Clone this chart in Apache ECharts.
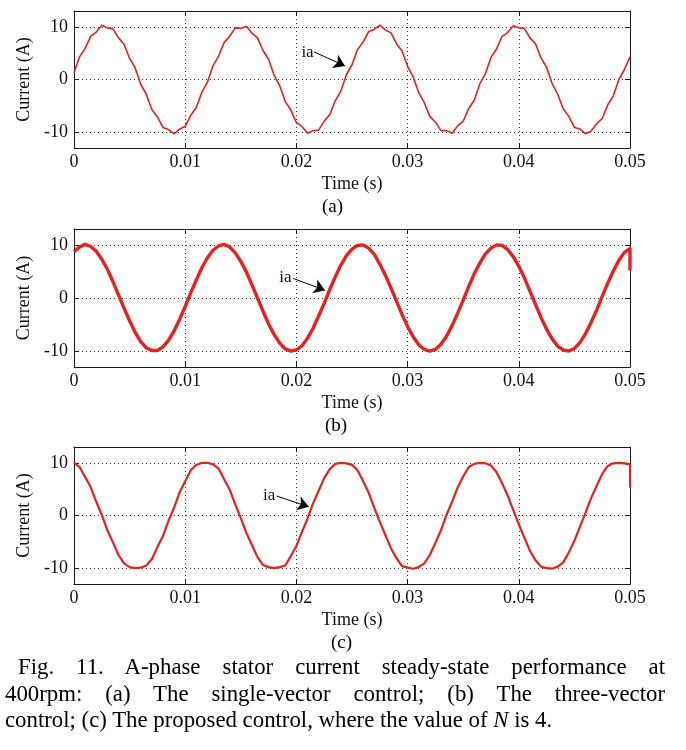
<!DOCTYPE html>
<html><head><meta charset="utf-8">
<script src="https://cdn.jsdelivr.net/npm/echarts@6/dist/echarts.min.js"></script>
<style>
html,body{margin:0;padding:0;background:#fff;}
#chart{position:absolute;left:0;top:0;width:686px;height:750px;}
#caption{position:absolute;left:5px;top:654px;width:660px;font-family:'Liberation Serif','Times New Roman',serif;font-size:22.8px;line-height:26.5px;color:#000;}
.j{text-align:justify;text-align-last:justify;white-space:nowrap;}
</style></head><body>
<div id="chart"></div>
<div id="caption">
<div class="j" style="text-indent:13px">Fig. 11. A-phase stator current steady-state performance at</div>
<div class="j">400rpm: (a) The single-vector control; (b) The three-vector</div>
<div style="white-space:nowrap">control; (c) The proposed control, where the value of <i>N</i> is 4.</div>
</div>
<script>
const times = [
  0, 0.0005, 0.001, 0.0015, 0.002, 0.0025, 0.003, 0.0035, 0.004, 0.0045,
  0.005, 0.0055, 0.006, 0.0065, 0.007, 0.0075, 0.008, 0.0085, 0.009, 0.0095,
  0.010, 0.0105, 0.011, 0.0115, 0.012, 0.0125, 0.013, 0.0135, 0.014, 0.0145,
  0.015, 0.0155, 0.016, 0.0165, 0.017, 0.0175, 0.018, 0.0185, 0.019, 0.0195,
  0.020, 0.0205, 0.021, 0.0215, 0.022, 0.0225, 0.023, 0.0235, 0.024, 0.0245,
  0.025, 0.0255, 0.026, 0.0265, 0.027, 0.0275, 0.028, 0.0285, 0.029, 0.0295,
  0.030, 0.0305, 0.031, 0.0315, 0.032, 0.0325, 0.033, 0.0335, 0.034, 0.0345,
  0.035, 0.0355, 0.036, 0.0365, 0.037, 0.0375, 0.038, 0.0385, 0.039, 0.0395,
  0.040, 0.0405, 0.041, 0.0415, 0.042, 0.0425, 0.043, 0.0435, 0.044, 0.0445,
  0.045, 0.0455, 0.046, 0.0465, 0.047, 0.0475, 0.048, 0.0485, 0.049, 0.0495,
  0.050
];
// (a) single-vector control
const currentA = [
  1.3, 4.3, 5.9, 8.2, 9.0, 10.3, 9.8, 9.6, 7.9, 6.7,
  4.0, 2.2, -0.9, -2.8, -5.7, -7.1, -9.1, -9.5, -10.3, -9.4,
  -8.9, -6.8, -5.3, -2.4, -0.5, 2.6, 4.4, 7.0, 8.2, 9.8,
  9.7, 10.1, 8.8, 7.9, 5.5, 3.8, 0.8, -1.2, -4.2, -5.8,
  -8.2, -8.9, -10.2, -9.7, -9.6, -7.9, -6.7, -4.0, -2.2, 0.9,
  2.8, 5.7, 7.1, 9.1, 9.5, 10.3, 9.4, 8.9, 6.8, 5.4,
  2.5, 0.5, -2.5, -4.4, -7.0, -8.1, -9.7, -9.7, -10.2, -8.8,
  -7.9, -5.5, -3.9, -0.8, 1.1, 4.2, 5.8, 8.2, 8.9, 10.2,
  9.8, 9.7, 7.9, 6.8, 4.1, 2.3, -0.8, -2.8, -5.6, -7.0,
  -9.1, -9.4, -10.3, -9.8, -8.4, -7.4, -4.8, -3.1, 0.0, 1.9,
  4.3
];
// (b) three-vector control
const currentB = [
  8.7, 9.6, 10.1, 9.7, 8.8, 7.3, 5.4, 3.1, 0.6, -1.9,
  -4.3, -6.5, -8.2, -9.4, -9.9, -9.9, -9.2, -8.0, -6.2, -4.0,
  -1.6, 1.0, 3.4, 5.7, 7.6, 9.0, 9.8, 10.1, 9.6, 8.5,
  6.9, 4.9, 2.5, 0.0, -2.5, -4.9, -6.9, -8.5, -9.6, -10.0,
  -9.8, -9.0, -7.6, -5.7, -3.4, -1.0, 1.6, 4.0, 6.2, 8.0,
  9.2, 9.9, 10.0, 9.4, 8.2, 6.4, 4.3, 1.9, -0.6, -3.1,
  -5.4, -7.3, -8.8, -9.7, -10.0, -9.7, -8.7, -7.2, -5.2, -2.9,
  -0.4, 2.2, 4.6, 6.6, 8.3, 9.4, 10.0, 9.9, 9.1, 7.8,
  6.0, 3.8, 1.3, -1.2, -3.7, -5.9, -7.7, -9.1, -9.8, -10.0,
  -9.5, -8.4, -6.7, -4.6, -2.3, 0.3, 2.8, 5.1, 7.1, 8.6,
  9.3
];
const endDropB = 5.2;
// (c) proposed control, N = 4
const currentC = [
  10.0, 9.2, 7.3, 5.4, 2.6, 0.1, -2.8, -5.1, -7.5, -9.1,
  -9.8, -10.0, -9.9, -9.5, -8.3, -6.0, -3.9, -1.0, 1.5, 4.4,
  6.5, 8.6, 9.6, 10.0, 10.0, 9.7, 8.9, 6.9, 4.9, 2.1,
  -0.5, -3.3, -5.6, -7.9, -9.4, -9.8, -10.0, -9.8, -9.5, -7.7,
  -5.8, -3.1, -0.6, 2.3, 4.7, 7.1, 8.8, 9.8, 10.0, 9.9,
  9.6, 8.6, 6.5, 4.3, 1.5, -1.2, -3.7, -6.2, -8.1, -9.6,
  -9.9, -10.1, -9.8, -9.1, -7.5, -5.2, -2.8, 0.1, 2.6, 5.3,
  7.4, 9.2, 9.8, 10.0, 9.9, 9.5, 8.2, 6.1, 3.8, 1.0,
  -1.7, -4.2, -6.7, -8.5, -9.7, -10.0, -10.1, -9.7, -8.9, -7.0,
  -4.8, -2.1, 0.5, 3.3, 5.6, 7.9, 9.4, 9.9, 10.0, 9.9,
  9.7
];
const endDropC = 5.3;

const yTickValues = [-10, 0, 10];
const panelLabels = ['(a)', '(b)', '(c)'];
const xAxisName = 'Time (s)';
const yAxisName = 'Current (A)';
const seriesName = 'ia';
// annotation anchors in data units: [label point, arrow start, arrow end]
const annotA = [[0.0210, 5.1], [0.02158, 5.24], [0.02437, 2.58]];
const annotB = [[0.01902, 3.8], [0.01972, 3.68], [0.02257, 1.46]];
const annotC = [[0.01754, 3.8], [0.01823, 3.68], [0.02111, 1.66]];

// ---------- layout ----------
const gridTops = [11, 229, 447];
const gridHeights = [137, 138, 137];
const gridLeft = 74, gridWidth = 556;
const labelCenters = [334, 337, 343];
const RED = '#e8201e';
const FONT = "'Liberation Serif', 'Times New Roman', serif";
const lineWidths = [1.6, 3.4, 2.2];

function pairs(vals, extra) {
  const d = times.map((t, i) => [t, vals[i]]);
  if (extra !== undefined) d.push([times[times.length - 1], extra]);
  return d;
}
const dataSets = [pairs(currentA), pairs(currentB, endDropB), pairs(currentC, endDropC)];
const annots = [annotA, annotB, annotC];

const grids = [], xAxes = [], yAxes = [], series = [], graphics = [];
const frameLine = { show: true, onZero: false, lineStyle: { color: '#1a1a1a', width: 1 } };
const gridDots = { show: true, lineStyle: { color: '#333', width: 1, type: [1, 3] } };
for (let g = 0; g < 3; g++) {
  grids.push({ left: gridLeft, top: gridTops[g], width: gridWidth, height: gridHeights[g], containLabel: false });
  const xBase = { type: 'value', gridIndex: g, min: 0, max: 0.05, interval: 0.01 };
  xAxes.push(Object.assign({}, xBase, {
    position: 'bottom',
    axisLine: frameLine,
    axisTick: { show: true, inside: true, length: 5, lineStyle: { color: '#1a1a1a' } },
    axisLabel: { show: true, margin: 5, color: '#111', fontFamily: FONT, fontSize: 18,
      formatter: v => String(+v.toFixed(2)) },
    splitLine: gridDots,
    name: xAxisName, nameLocation: 'middle', nameGap: 27,
    nameTextStyle: { color: '#111', fontFamily: FONT, fontSize: 18 }
  }));
  xAxes.push(Object.assign({}, xBase, {
    position: 'top',
    axisLine: frameLine,
    axisTick: { show: true, inside: true, length: 5, lineStyle: { color: '#1a1a1a' } },
    axisLabel: { show: false },
    splitLine: { show: false }
  }));
  const yBase = { type: 'value', gridIndex: g, min: -13, max: 13 };
  yAxes.push(Object.assign({}, yBase, {
    position: 'left',
    axisLine: frameLine,
    axisTick: { show: true, inside: true, length: 5, customValues: yTickValues, lineStyle: { color: '#1a1a1a' } },
    axisLabel: { show: true, margin: 6, customValues: yTickValues, color: '#111', fontFamily: FONT, fontSize: 18 },
    splitLine: gridDots,
    name: yAxisName, nameLocation: 'middle', nameGap: 37, nameRotate: 90,
    nameTextStyle: { color: '#111', fontFamily: FONT, fontSize: 18 }
  }));
  yAxes.push(Object.assign({}, yBase, {
    position: 'right',
    axisLine: frameLine,
    axisTick: { show: true, inside: true, length: 5, customValues: yTickValues, lineStyle: { color: '#1a1a1a' } },
    axisLabel: { show: false },
    splitLine: { show: false }
  }));
  const an = annots[g];
  series.push({
    type: 'line', name: seriesName, xAxisIndex: 2 * g, yAxisIndex: 2 * g,
    data: dataSets[g], showSymbol: false, symbol: 'none', animation: false,
    lineStyle: { color: RED, width: lineWidths[g], join: 'round' },
    markLine: {
      silent: true, animation: false,
      symbol: ['none', 'arrow'], symbolSize: 11,
      itemStyle: { color: '#000' },
      lineStyle: { color: '#000', width: 1, type: 'solid' },
      label: { show: false },
      data: [[{ coord: an[1] }, { coord: an[2] }]]
    },
    markPoint: {
      silent: true, animation: false,
      symbol: 'circle', symbolSize: 1, itemStyle: { color: 'rgba(0,0,0,0)' },
      label: { show: true, position: 'inside', formatter: seriesName, color: '#111',
        fontFamily: FONT, fontSize: 17 },
      data: [{ coord: an[0] }]
    }
  });
  graphics.push({
    type: 'text', left: labelCenters[g] - 12, top: gridTops[g] + gridHeights[g] + 50,
    style: { text: panelLabels[g], fill: '#000', font: '19px ' + FONT }
  });
}

const chart = echarts.init(document.getElementById('chart'), null, { renderer: 'canvas' });
chart.setOption({
  animation: false,
  backgroundColor: '#fff',
  grid: grids, xAxis: xAxes, yAxis: yAxes, series: series, graphic: graphics
});
</script>
</body></html>
